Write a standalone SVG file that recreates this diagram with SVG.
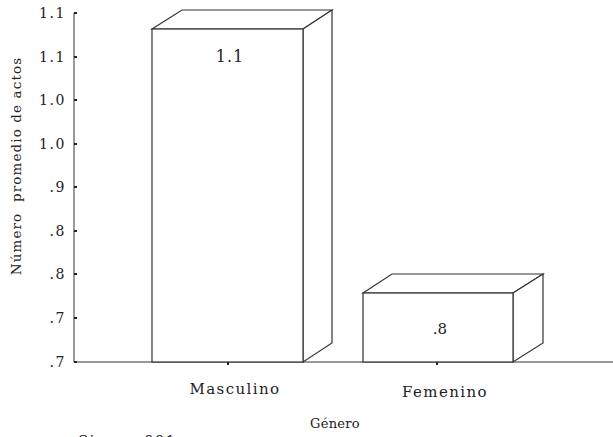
<svg xmlns="http://www.w3.org/2000/svg" width="613" height="437" viewBox="0 0 613 437">
<style>
text{font-family:"DejaVu Serif","Liberation Serif",serif;fill:#222}
.tl{font-size:14px;text-anchor:end;letter-spacing:1.6px}
.axis{stroke:#777;stroke-width:1.5;fill:none}
.bar{stroke:#333;stroke-width:1.2;fill:#fff;stroke-linejoin:miter}
.tick{stroke:#222;stroke-width:2}
</style>
<rect width="613" height="437" fill="#fff"/>
<g id="axes">
<line class="axis" x1="74" y1="13" x2="74" y2="362"/>
<line class="axis" x1="74" y1="362" x2="613" y2="362"/>
<g class="tick">
<line x1="74" y1="13" x2="77" y2="13"/>
<line x1="74" y1="57" x2="77" y2="57"/>
<line x1="74" y1="100" x2="77" y2="100"/>
<line x1="74" y1="144" x2="77" y2="144"/>
<line x1="74" y1="187" x2="77" y2="187"/>
<line x1="74" y1="231" x2="77" y2="231"/>
<line x1="74" y1="274" x2="77" y2="274"/>
<line x1="74" y1="318" x2="77" y2="318"/>
<line x1="74" y1="362" x2="77" y2="362"/>
<line x1="228" y1="362" x2="228" y2="365"/>
<line x1="437" y1="362" x2="437" y2="365"/>
</g>
<text class="tl" x="66" y="18">1.1</text>
<text class="tl" x="66" y="62">1.1</text>
<text class="tl" x="66" y="105">1.0</text>
<text class="tl" x="66" y="149">1.0</text>
<text class="tl" x="66" y="192">.9</text>
<text class="tl" x="66" y="236">.8</text>
<text class="tl" x="66" y="279">.8</text>
<text class="tl" x="66" y="323">.7</text>
<text class="tl" x="66" y="367">.7</text>
<text x="0" y="0" font-size="13.5" letter-spacing="1.1" text-anchor="middle" transform="translate(21,166) rotate(-90)" xml:space="preserve">Número  promedio de actos</text>
</g>
<g id="bar-masculino">
<polygon class="bar" points="152,29 182,10 332,10 303,29"/>
<polygon class="bar" points="303,29 332,10 332,343 303,362"/>
<rect class="bar" x="152" y="29" width="151" height="333"/>
<text x="230" y="62" font-size="16" letter-spacing="1" text-anchor="middle">1.1</text>
</g>
<g id="bar-femenino">
<polygon class="bar" points="363,293 392,274 543,274 513,293"/>
<polygon class="bar" points="513,293 543,274 543,343 513,362"/>
<rect class="bar" x="363" y="293" width="150" height="69"/>
<text x="440" y="334" font-size="15" text-anchor="middle">.8</text>
</g>
<g id="labels">
<text x="235" y="394" font-size="15" letter-spacing="1.4" text-anchor="middle">Masculino</text>
<text x="445" y="397" font-size="15" letter-spacing="1.4" text-anchor="middle">Femenino</text>
<text x="335" y="428" font-size="13" letter-spacing="0.3" text-anchor="middle">Género</text>
<text x="78" y="446" font-size="15" letter-spacing="1.2">Sig. = .001</text>
</g>
</svg>
